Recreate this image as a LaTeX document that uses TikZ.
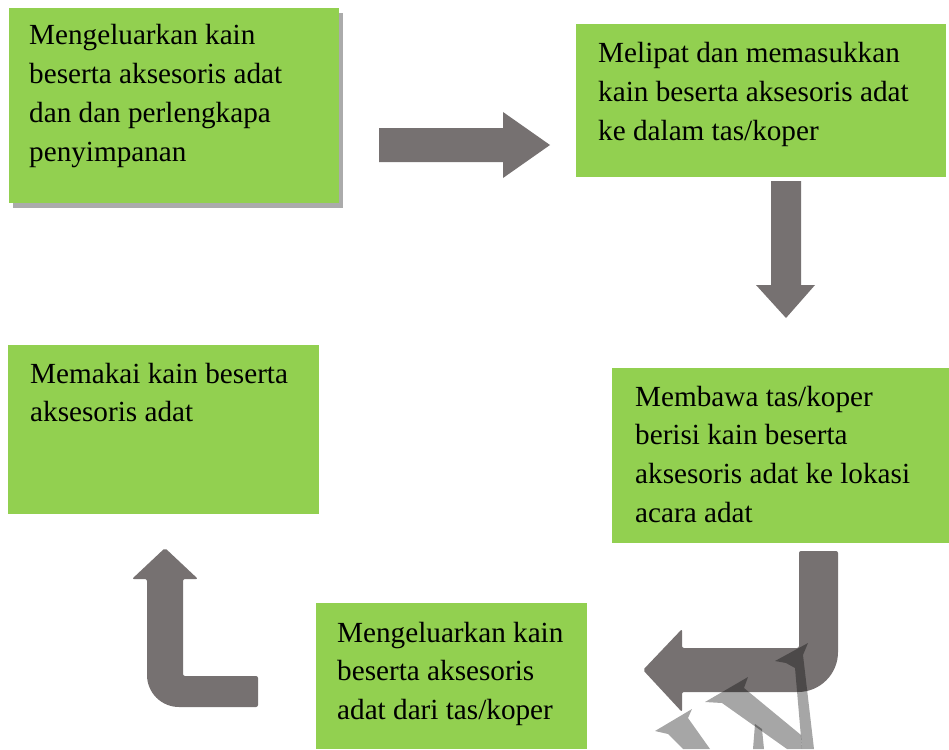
\documentclass[tikz,border=0pt]{standalone}
\usepackage{fontspec}
\setmainfont{Liberation Serif}
\definecolor{boxgreen}{HTML}{92D050}
\definecolor{arrowgray}{HTML}{767171}
\newcommand\mylines[1]{\begin{tabular}[t]{@{}l@{}}#1\end{tabular}}
\begin{document}
\begin{tikzpicture}[x=1pt,y=-1pt,
  box/.style={fill=boxgreen,draw=none,inner sep=0pt,anchor=north west},
  txt/.style={inner sep=0pt,anchor=base west,font=\fontsize{29.2}{38.8}\selectfont,text=black},
  blockarrow/.style={fill=arrowgray,draw=none},
  wmark/.style={fill=black,fill opacity=0.35,draw=none}]
\useasboundingbox (0,0) rectangle (949,749);
\fill[white] (0,0) rectangle (949,749);
% shadow of first box
\fill[black!33] (13,13) rectangle (343,208);
% boxes
\node[box,minimum width=330pt,minimum height=195pt] (b1) at (9,8) {};
\node[box,minimum width=370pt,minimum height=153pt] (b2) at (576,24) {};
\node[box,minimum width=311pt,minimum height=169pt] (b3) at (8,345) {};
\node[box,minimum width=337pt,minimum height=175pt] (b4) at (612,368) {};
\node[box,minimum width=271pt,minimum height=146pt] (b5) at (316,603) {};
% texts
\node[txt] (t1) at (29,45) {\mylines{Mengeluarkan kain\\beserta aksesoris adat\\dan dan perlengkapa\\penyimpanan}};
\node[txt] (t2) at (598,63) {\mylines{Melipat dan memasukkan\\kain beserta aksesoris adat\\ke dalam tas/koper}};
\node[txt] (t3) at (30,383) {\mylines{Memakai kain beserta\\aksesoris adat}};
\node[txt] (t4) at (635,406) {\mylines{Membawa tas/koper\\berisi kain beserta\\aksesoris adat ke lokasi\\acara adat}};
\node[txt] (t5) at (337,642) {\mylines{Mengeluarkan kain\\beserta aksesoris\\adat dari tas/koper}};
% right arrow
\fill[blockarrow] (379,128) -- (503,128) -- (503,112) -- (550,145) -- (503,178) -- (503,162) -- (379,162) -- cycle;
% down arrow
\fill[blockarrow] (771,181) -- (801,181) -- (801,285) -- (815,285) -- (786,318) -- (756,285) -- (771,285) -- cycle;
% bent arrow (down then left)
\fill[blockarrow,rounded corners=2pt] (799,551) -- (838,551) {[rounded corners=40pt] -- (838,692)} -- (682,692) -- (682,712) -- (643,670) -- (682,629) -- (682,648) -- (799,648) -- cycle;
% bent arrow (right then up)
\fill[blockarrow,rounded corners=2pt] (165,548) -- (198,579) -- (183,579) -- (183,676) -- (258,676) -- (258,707) {[rounded corners=32pt] -- (147,707)} -- (147,579) -- (132,579) -- cycle;
% watermark fragments
\fill[wmark] (775,661) -- (808,643) -- (803,655) -- (814,749) -- (802,749) -- (795,668) -- (786,663) -- cycle;
\fill[wmark] (705,702) -- (748,677) -- (744,688) -- (801,735) -- (802,749) -- (787,749) -- (722,703) -- cycle;
\fill[wmark] (655,731) -- (692,709) -- (688,718) -- (710,749) -- (683,749) -- (668,734) -- cycle;
\fill[wmark] (753,749) -- (755,724) -- (762,729) -- (764,749) -- cycle;
\end{tikzpicture}
\end{document}
